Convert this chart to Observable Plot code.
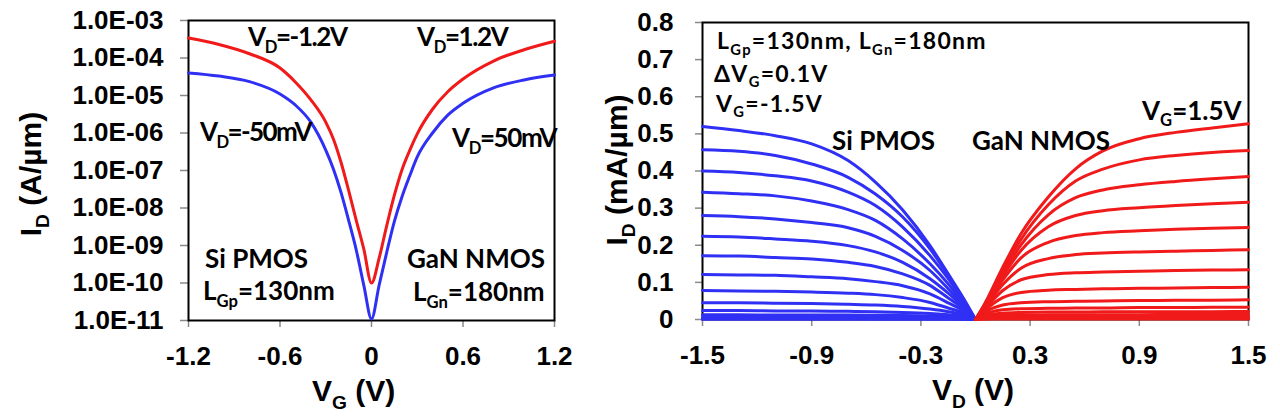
<!DOCTYPE html>
<html>
<head>
<meta charset="utf-8">
<script src="https://cdn.jsdelivr.net/npm/d3@7"></script>
<script src="https://cdn.jsdelivr.net/npm/@observablehq/plot@0.6"></script>
<style>
  body { margin: 0; background: #fff; }
  #wrap { display: flex; width: 1280px; height: 420px; overflow: hidden; }
  #wrap svg { flex: none; }
</style>
</head>
<body>
<div id="wrap"></div>
<script>
// ---------------- Left panel: transfer curves (ID vs VG, log) ----------------
const vgTransfer = [-1.2, -1.0, -0.8, -0.6, -0.5, -0.4, -0.3, -0.25, -0.2, -0.15, -0.1, -0.05, 0,
                    0.05, 0.1, 0.15, 0.2, 0.25, 0.3, 0.4, 0.5, 0.6, 0.8, 1.0, 1.2];
// |VD| = 1.2 V (red)
const idHighVd = [3.4e-4, 2.3e-4, 1.3e-4, 5.4e-5, 2.3e-5, 7.9e-6, 1.95e-6, 6.9e-7, 1.66e-7, 2.95e-8, 4.7e-9, 7.9e-10, 1.0e-10,
                  4.6e-10, 3.4e-9, 2.2e-8, 1.05e-7, 3.4e-7, 9.5e-7, 4.3e-6, 1.26e-5, 2.75e-5, 8.3e-5, 1.66e-4, 2.8e-4];
// |VD| = 50 mV (blue)
const idLowVd = [4.0e-5, 3.3e-5, 2.35e-5, 1.1e-5, 5.6e-6, 2.0e-6, 3.5e-7, 1.1e-7, 2.6e-8, 4.7e-9, 7.6e-10, 8.5e-11, 1.1e-11,
                 8.7e-11, 6.6e-10, 4.4e-9, 2.0e-8, 7.1e-8, 2.3e-7, 1.0e-6, 3.0e-6, 6.2e-6, 1.6e-5, 2.6e-5, 3.5e-5];
const xTicksL = [-1.2, -0.6, 0, 0.6, 1.2];
const xTickLabelsL = ["-1.2", "-0.6", "0", "0.6", "1.2"];
const yTicksL = [1e-11, 1e-10, 1e-9, 1e-8, 1e-7, 1e-6, 1e-5, 1e-4, 1e-3];
const yTickLabelsL = ["1.0E-11", "1.0E-10", "1.0E-09", "1.0E-08", "1.0E-07", "1.0E-06", "1.0E-05", "1.0E-04", "1.0E-03"];

// ---------------- Right panel: output curves (ID vs VD, linear) ----------------
const vdPmos = [-1.5, -1.3, -1.1, -0.9, -0.7, -0.55, -0.4, -0.25, -0.15, -0.05, 0];
const vgPmos = [-1.5, -1.4, -1.3, -1.2, -1.1, -1.0, -0.9, -0.8, -0.7, -0.6, -0.5, -0.4, -0.3, -0.2, -0.1];
const idPmos = [
  [0.520, 0.509, 0.495, 0.473, 0.428, 0.370, 0.295, 0.199, 0.123, 0.044, 0],
  [0.457, 0.453, 0.442, 0.419, 0.383, 0.338, 0.276, 0.190, 0.119, 0.040, 0],
  [0.400, 0.396, 0.387, 0.373, 0.343, 0.307, 0.249, 0.172, 0.110, 0.037, 0],
  [0.343, 0.339, 0.333, 0.319, 0.296, 0.267, 0.217, 0.150, 0.096, 0.033, 0],
  [0.280, 0.277, 0.271, 0.261, 0.247, 0.224, 0.186, 0.132, 0.083, 0.030, 0],
  [0.224, 0.222, 0.217, 0.211, 0.199, 0.182, 0.154, 0.110, 0.071, 0.026, 0],
  [0.172, 0.171, 0.167, 0.163, 0.154, 0.143, 0.123, 0.092, 0.058, 0.023, 0],
  [0.121, 0.120, 0.119, 0.115, 0.110, 0.102, 0.091, 0.069, 0.045, 0.019, 0],
  [0.078, 0.077, 0.076, 0.074, 0.071, 0.067, 0.059, 0.046, 0.031, 0.014, 0],
  [0.045, 0.045, 0.044, 0.043, 0.041, 0.039, 0.035, 0.028, 0.021, 0.011, 0],
  [0.024, 0.024, 0.023, 0.023, 0.022, 0.021, 0.019, 0.016, 0.013, 0.007, 0],
  [0.0126, 0.0125, 0.0124, 0.0122, 0.012, 0.0115, 0.011, 0.0095, 0.0075, 0.0045, 0],
  [0.006, 0.006, 0.006, 0.0058, 0.0057, 0.0055, 0.0052, 0.0046, 0.0037, 0.0022, 0],
  [0.0025, 0.0025, 0.0025, 0.0024, 0.0024, 0.0023, 0.0022, 0.002, 0.0016, 0.001, 0],
  [0.0008, 0.0008, 0.0008, 0.0008, 0.0008, 0.0008, 0.0007, 0.0007, 0.0006, 0.0004, 0]
];
const vdNmos = [0, 0.05, 0.15, 0.25, 0.4, 0.55, 0.7, 0.9, 1.1, 1.3, 1.5];
const vgNmos = [1.5, 1.4, 1.3, 1.2, 1.1, 1.0, 0.9, 0.8, 0.7, 0.6, 0.5, 0.4, 0.3, 0.2, 0.1];
const idNmos = [
  [0, 0.042, 0.141, 0.231, 0.330, 0.406, 0.454, 0.487, 0.504, 0.516, 0.527],
  [0, 0.040, 0.133, 0.216, 0.309, 0.373, 0.405, 0.430, 0.442, 0.450, 0.455],
  [0, 0.038, 0.125, 0.201, 0.282, 0.328, 0.349, 0.363, 0.372, 0.379, 0.385],
  [0, 0.036, 0.117, 0.186, 0.250, 0.280, 0.293, 0.301, 0.307, 0.312, 0.316],
  [0, 0.034, 0.107, 0.166, 0.208, 0.226, 0.234, 0.239, 0.243, 0.246, 0.248],
  [0, 0.031, 0.094, 0.138, 0.164, 0.175, 0.179, 0.182, 0.184, 0.186, 0.188],
  [0, 0.028, 0.078, 0.107, 0.121, 0.126, 0.128, 0.130, 0.132, 0.133, 0.134],
  [0, 0.024, 0.059, 0.073, 0.079, 0.081, 0.083, 0.084, 0.085, 0.086, 0.087],
  [0, 0.019, 0.039, 0.045, 0.048, 0.049, 0.050, 0.051, 0.052, 0.052, 0.053],
  [0, 0.014, 0.026, 0.029, 0.030, 0.031, 0.031, 0.032, 0.032, 0.033, 0.033],
  [0, 0.010, 0.017, 0.019, 0.020, 0.020, 0.021, 0.021, 0.021, 0.021, 0.0215],
  [0, 0.007, 0.011, 0.012, 0.0125, 0.013, 0.013, 0.013, 0.0133, 0.0134, 0.0135],
  [0, 0.0045, 0.0068, 0.0073, 0.0076, 0.0077, 0.0078, 0.0079, 0.0079, 0.008, 0.008],
  [0, 0.0025, 0.0035, 0.0037, 0.0038, 0.0039, 0.0039, 0.004, 0.004, 0.004, 0.004],
  [0, 0.001, 0.0013, 0.0014, 0.0014, 0.0015, 0.0015, 0.0015, 0.0015, 0.0015, 0.0015]
];
const xTicksR = [-1.5, -0.9, -0.3, 0.3, 0.9, 1.5];
const xTickLabelsR = ["-1.5", "-0.9", "-0.3", "0.3", "0.9", "1.5"];
const yTicksR = [0, 0.1, 0.2, 0.3, 0.4, 0.5, 0.6, 0.7, 0.8];
const yTickLabelsR = ["0", "0.1", "0.2", "0.3", "0.4", "0.5", "0.6", "0.7", "0.8"];

// ---------------- styling ----------------
const RED = "#f01a1a";
const BLUE = "#3030f4";
const AX = "'Liberation Sans', Arial, sans-serif";
const ANN = "Lato, 'Open Sans', sans-serif";
const TICK_FS = 26;

const fmt = (ticks, labels) => d => labels[ticks.findIndex(t => Math.abs(t - d) / Math.max(Math.abs(t), 1e-15) < 1e-9 || t === d)];

function label(svg, x, y, parts, {size = 26, family = ANN, anchor = "start", rotate = 0, ls = 0, sub = 0.26} = {}) {
  const t = d3.select(svg).append("text")
    .attr("x", x).attr("y", y)
    .attr("font-family", family).attr("font-weight", 700).attr("font-size", size)
    .attr("text-anchor", anchor).attr("fill", "#000");
  if (ls) t.attr("letter-spacing", ls);
  if (rotate) t.attr("transform", `rotate(${rotate} ${x} ${y})`);
  let shift = 0;
  for (const p of parts) {
    const isSub = typeof p === "object";
    const target = isSub ? size * sub : 0;
    const s = t.append("tspan").attr("dy", target - shift).text(isSub ? p.sub : p);
    if (isSub) s.attr("font-size", size * 0.64);
    shift = target;
  }
}

// ---------------- left chart ----------------
const lowRows = vgTransfer.map((vg, i) => ({vg, id: idLowVd[i]}));
const highRows = vgTransfer.map((vg, i) => ({vg, id: idHighVd[i]}));

const axisStyle = {stroke: "#8a8a8a", fill: "black", strokeWidth: 1.5, fontSize: TICK_FS, fontWeight: "bold", fontFamily: AX, label: null};

const leftChart = Plot.plot({
  width: 600, height: 420,
  marginLeft: 188, marginRight: 46, marginTop: 20, marginBottom: 100,
  style: {fontFamily: AX, fontWeight: "bold", fontSize: TICK_FS + "px", background: "white", overflow: "visible", color: "black"},
  x: {domain: [-1.2, 1.2]},
  y: {type: "log", domain: [1e-11, 1e-3]},
  marks: [
    Plot.axisY({ticks: yTicksL, tickFormat: fmt(yTicksL, yTickLabelsL), tickSize: 8, tickPadding: 17, ...axisStyle}),
    Plot.axisX({ticks: xTicksL, tickFormat: fmt(xTicksL, xTickLabelsL), tickSize: 7, tickPadding: 19, ...axisStyle}),
    Plot.frame({stroke: "black", strokeWidth: 2}),
    Plot.line(lowRows, {x: "vg", y: "id", stroke: BLUE, strokeWidth: 3, curve: "monotone-x"}),
    Plot.line(highRows, {x: "vg", y: "id", stroke: RED, strokeWidth: 3, curve: "monotone-x"})
  ]
});

// ---------------- right chart ----------------
const pRows = [];
vgPmos.forEach((vg, k) => vdPmos.forEach((vd, j) => pRows.push({vd, id: idPmos[k][j], vg})));
const nRows = [];
vgNmos.forEach((vg, k) => vdNmos.forEach((vd, j) => nRows.push({vd, id: idNmos[k][j], vg})));

const rightChart = Plot.plot({
  width: 680, height: 420,
  marginLeft: 102, marginRight: 32, marginTop: 22, marginBottom: 101,
  style: {fontFamily: AX, fontWeight: "bold", fontSize: TICK_FS + "px", background: "white", overflow: "visible", color: "black"},
  x: {domain: [-1.5, 1.5]},
  y: {domain: [0, 0.8]},
  marks: [
    Plot.axisY({ticks: yTicksR, tickFormat: fmt(yTicksR, yTickLabelsR), tickSize: 7, tickPadding: 22, ...axisStyle}),
    Plot.axisX({ticks: xTicksR, tickFormat: fmt(xTicksR, xTickLabelsR), tickSize: 7, tickPadding: 19, ...axisStyle}),
    Plot.frame({stroke: "black", strokeWidth: 2}),
    Plot.line(pRows, {x: "vd", y: "id", z: "vg", stroke: BLUE, strokeWidth: 3, curve: "monotone-x"}),
    Plot.line(nRows, {x: "vd", y: "id", z: "vg", stroke: RED, strokeWidth: 3, curve: "monotone-x"})
  ]
});

const wrap = document.getElementById("wrap");
wrap.appendChild(leftChart);
wrap.appendChild(rightChart);

// ---------------- annotations (left) ----------------
label(leftChart, 41, 174, ["I", {sub: "D"}, " (A/\u00b5m)"], {size: 30, family: AX, anchor: "middle", rotate: -90});
label(leftChart, 312, 401, ["V", {sub: "G"}, " (V)"], {size: 30, family: AX});
label(leftChart, 248, 46, ["V", {sub: "D"}, "=-1.2V"], {ls: -1.4});
label(leftChart, 417, 46, ["V", {sub: "D"}, "=1.2V"], {ls: -1.4});
label(leftChart, 200, 141, ["V", {sub: "D"}, "=-50mV"], {ls: -1.6});
label(leftChart, 452, 147, ["V", {sub: "D"}, "=50mV"], {ls: -1.4});
label(leftChart, 205, 268, ["Si PMOS"]);
label(leftChart, 203, 300, ["L", {sub: "Gp"}, "=130nm"]);
label(leftChart, 407, 268, ["GaN NMOS"]);
label(leftChart, 413, 301, ["L", {sub: "Gn"}, "=180nm"]);

// ---------------- annotations (right) ----------------
label(rightChart, 27, 170, ["I", {sub: "D"}, " (mA/\u00b5m)"], {size: 30, family: AX, anchor: "middle", rotate: -90});
label(rightChart, 373, 400, ["V", {sub: "D"}, " (V)"], {size: 30, family: AX, anchor: "middle"});
label(rightChart, 117, 49, ["L", {sub: "Gp"}, "=130nm, L", {sub: "Gn"}, "=180nm"], {size: 23, ls: 1.3, sub: 0.24});
label(rightChart, 114, 82, ["\u0394V", {sub: "G"}, "=0.1V"], {size: 23, ls: 1.3, sub: 0.2});
label(rightChart, 116, 112, ["V", {sub: "G"}, "=-1.5V"], {size: 23, ls: 1.3, sub: 0.22});
label(rightChart, 232, 150, ["Si PMOS"]);
label(rightChart, 372, 150, ["GaN NMOS"]);
label(rightChart, 542, 120, ["V", {sub: "G"}, "=1.5V"], {sub: 0.22});
</script>
</body>
</html>
